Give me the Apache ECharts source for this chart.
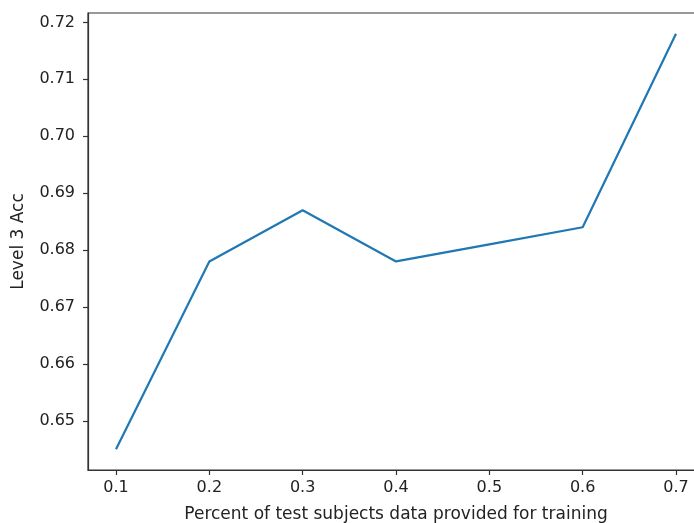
<!DOCTYPE html>
<html>
<head>
<meta charset="utf-8">
<script src="https://cdn.jsdelivr.net/npm/echarts@6/dist/echarts.min.js"></script>
<style>
html,body{margin:0;padding:0;background:#fff;overflow:hidden;width:694px;height:523px;}
#c{width:714px;height:523px;}
</style>
</head>
<body>
<div id="c"></div>
<script>
const xValues = [0.1, 0.2, 0.3, 0.4, 0.5, 0.6, 0.7];
const accValues = [0.645, 0.678, 0.687, 0.678, 0.681, 0.684, 0.718];
const xTicks = [0.1, 0.2, 0.3, 0.4, 0.5, 0.6, 0.7];
const yTicks = [0.65, 0.66, 0.67, 0.68, 0.69, 0.70, 0.71, 0.72];
const xTitle = 'Percent of test subjects data provided for training';
const yTitle = 'Level 3 Acc';

const xmin = 0.07, xmax = 0.73;
const ymin = 0.64135, ymax = 0.72165;
const font = 'DejaVu Sans';
const axisColor = '#333';

const chart = echarts.init(document.getElementById('c'), null, {renderer: 'canvas'});
chart.setOption({
  animation: false,
  backgroundColor: '#fff',
  grid: {left: 88, top: 13, right: 10, bottom: 53, outerBoundsMode: 'none', containLabel: false,
    show: true, borderColor: axisColor, borderWidth: 1.2, backgroundColor: 'transparent'},
  xAxis: {
    type: 'value', min: xmin, max: xmax,
    name: xTitle, nameLocation: 'middle', nameGap: 36,
    nameTextStyle: {fontFamily: font, fontSize: 17, color: '#222'},
    axisLine: {show: true, lineStyle: {color: axisColor, width: 1.2}},
    axisTick: {show: true, inside: false, length: 5, customValues: xTicks, lineStyle: {color: axisColor, width: 1.2}},
    axisLabel: {customValues: xTicks, margin: 10, fontFamily: font, fontSize: 16, color: '#222',
      formatter: v => (Math.round(v*10)/10).toFixed(1)},
    splitLine: {show: false}
  },
  yAxis: {
    type: 'value', min: ymin, max: ymax,
    name: yTitle, nameLocation: 'middle', nameGap: 61, nameRotate: 90,
    nameTextStyle: {fontFamily: font, fontSize: 17, color: '#222'},
    axisLine: {show: true, lineStyle: {color: axisColor, width: 1.2}},
    axisTick: {show: true, inside: false, length: 5, customValues: yTicks, lineStyle: {color: axisColor, width: 1.2}},
    axisLabel: {customValues: yTicks, margin: 13, fontFamily: font, fontSize: 16, color: '#222',
      formatter: v => (Math.round(v*100)/100).toFixed(2)},
    splitLine: {show: false}
  },
  series: [{
    type: 'line',
    data: xValues.map((x, i) => [x, accValues[i]]),
    showSymbol: false,
    lineStyle: {color: '#1f77b4', width: 2.2},
    itemStyle: {color: '#1f77b4'}
  }]
});
</script>
</body>
</html>
